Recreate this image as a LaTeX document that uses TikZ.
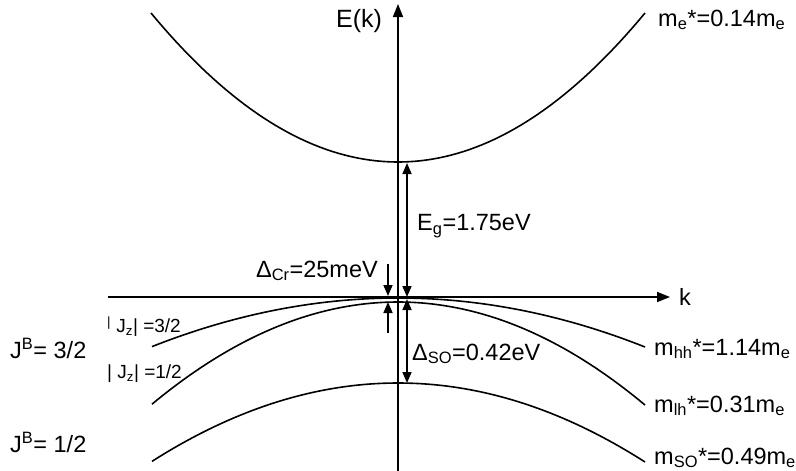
\documentclass[tikz,border=0pt]{standalone}
\usepackage{fontspec}
\setmainfont{Liberation Sans}
\usetikzlibrary{arrows.meta}
\begin{document}
\begin{tikzpicture}[x=1pt,y=-1pt,
  band/.style={line width=1.6pt},
  axisline/.style={line width=1.6pt,-{Triangle[length=13pt,width=10pt]}},
  dimarrow/.style={line width=1.6pt,{Triangle[length=11pt,width=9pt]}-{Triangle[length=11pt,width=9pt]}},
  onearrow/.style={line width=1.6pt,-{Triangle[length=11pt,width=9pt]}},
  lab/.style={inner sep=0pt,font=\fontsize{23.5}{26}\selectfont},
  smalllab/.style={inner sep=0pt,font=\fontsize{19}{22}\selectfont}]
\useasboundingbox (0,0) rectangle (796,471);
% axes
\coordinate (ybot) at (398,471);
\coordinate (ytop) at (398,4);
\coordinate (xl) at (108,297);
\coordinate (xr) at (670,297);
\draw[axisline] (ybot) -- (ytop);
\draw[axisline] (xl) -- (xr);
\node[lab] (k) at (685,297) {k};
\node[lab,font=\fontsize{25}{28}\selectfont] (Ek) at (359,21) {E(k)};
% bands
\draw[band] plot[domain=-247:247,samples=80] ({398+\x},{162-149*(\x/247)^2});
\draw[band] plot[domain=-246:247,samples=80] ({398+\x},{298+49*(\x/247)^2});
\draw[band] plot[domain=-246:247,samples=80] ({398+\x},{302+103*(\x/247)^2});
\draw[band] plot[domain=-246:247,samples=80] ({398+\x},{383+79*(\x/247)^2});
% gap arrows
\coordinate (cbmin) at (407,163);
\coordinate (vbtop) at (407,297);
\coordinate (hhtop) at (407,299);
\coordinate (sotop) at (407,383);
\draw[dimarrow] (cbmin) -- (vbtop);
\draw[dimarrow] (hhtop) -- (sotop);
\coordinate (crA) at (388,264);
\coordinate (crB) at (388,296);
\coordinate (crC) at (388,333);
\coordinate (crD) at (388,302);
\draw[onearrow] (crA) -- (crB);
\draw[onearrow] (crC) -- (crD);
% labels
\node[lab,anchor=west] (Eg) at (417,226) {E\textsubscript{g}=1.75eV};
\node[lab,anchor=east] (Dcr) at (378,271) {Δ\textsubscript{Cr}=25meV};
\node[lab,anchor=west] (Dso) at (412,354) {Δ\textsubscript{SO}=0.42eV};
\node[lab,anchor=west] (me) at (658,20) {m\textsubscript{e}*=0.14m\textsubscript{e}};
\node[lab,anchor=west] (mhh) at (654,349) {m\textsubscript{hh}*=1.14m\textsubscript{e}};
\node[lab,anchor=west] (mlh) at (654,406) {m\textsubscript{lh}*=0.31m\textsubscript{e}};
\node[lab,anchor=west] (mso) at (654,458) {m\textsubscript{SO}*=0.49m\textsubscript{e}};
\node[lab,anchor=west] (J32) at (10,348) {J\textsuperscript{B}=\ 3/2};
\node[lab,anchor=west] (J12) at (10,442) {J\textsuperscript{B}=\ 1/2};
\node[smalllab,anchor=west] (jz32) at (107,327) {\textsuperscript{|} J\textsubscript{z}| =3/2};
\node[smalllab,anchor=west] (jz12) at (107,374) {| J\textsubscript{z}| =1/2};
\end{tikzpicture}
\end{document}
